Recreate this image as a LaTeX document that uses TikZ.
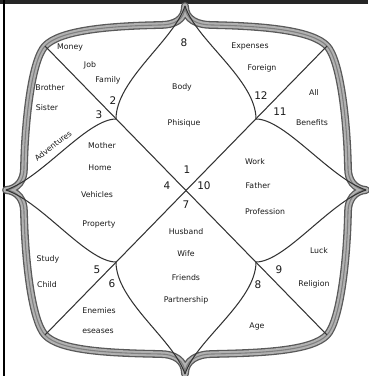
\documentclass[tikz,border=0pt]{standalone}
\usepackage{fontspec}
\setmainfont{DejaVu Sans}
\begin{document}
\begin{tikzpicture}[x=1pt,y=-1pt,
  lbl/.style={inner sep=0pt, text=black!90, font=\fontsize{7.8}{9}\selectfont},
  num/.style={inner sep=0pt, text=black!90, font=\fontsize{10.5}{12}\selectfont},
  inner/.style={draw=black!80, line width=1.05pt},
  band/.style={draw=black!65, line width=7.8pt, line join=round, line cap=round,
    postaction={draw=black!30, line width=5.2pt},
    postaction={draw=black!50, line width=1.1pt}}]
\useasboundingbox (0,0) rectangle (368,376);
% frame
\fill[black!85] (0,0) rectangle (368,3.5);
\draw[black, line width=1.1pt] (4,0) -- (4,376);
% key points
\coordinate (T) at (185,6);
\coordinate (B) at (185,374);
\coordinate (L) at (6,190);
\coordinate (R) at (366,190);
\coordinate (TL) at (45,46);
\coordinate (TR) at (327,46);
\coordinate (BL) at (45,335);
\coordinate (BR) at (327,335);
\coordinate (mTL) at (116,119);
\coordinate (mTR) at (256,119);
\coordinate (mBL) at (116,262);
\coordinate (mBR) at (256,262);
\coordinate (tl1) at (160,25);
\coordinate (tr1) at (212,25);
\coordinate (bl1) at (160,354);
\coordinate (br1) at (212,354);
\coordinate (lt1) at (24,168);
\coordinate (lb1) at (24,212);
\coordinate (rt1) at (348,168);
\coordinate (rb1) at (348,212);
% outer border
\path[band] (T) .. controls +(0,14) and +(14,0) .. (tl1)
  .. controls +(-50,1) and +(15,-16) .. (TL)
  .. controls +(-13,14) and +(1,-50) .. (lt1)
  .. controls +(0,12) and +(12,-1) .. (L)
  .. controls +(12,1) and +(0,-12) .. (lb1)
  .. controls +(1,50) and +(-13,-14) .. (BL)
  .. controls +(15,16) and +(-50,-1) .. (bl1)
  .. controls +(14,0) and +(0,-14) .. (B)
  .. controls +(0,-14) and +(-14,0) .. (br1)
  .. controls +(50,-1) and +(-15,16) .. (BR)
  .. controls +(13,-14) and +(-1,50) .. (rb1)
  .. controls +(0,-12) and +(-12,1) .. (R)
  .. controls +(-12,-1) and +(0,12) .. (rt1)
  .. controls +(-1,-50) and +(13,14) .. (TR)
  .. controls +(-15,-16) and +(50,1) .. (tr1)
  .. controls +(-14,0) and +(0,14) .. (T);
% diagonals
\draw[inner] (TL) -- (BR);
\draw[inner] (TR) -- (BL);
% inner curved diamond
\draw[inner] (T) .. controls +(-11,34) and +(0,-39) .. (mTL);
\draw[inner] (T) .. controls +(11,34) and +(0,-39) .. (mTR);
\draw[inner] (mTL) .. controls +(-29,0) and +(36,-12) .. (L);
\draw[inner] (mTR) .. controls +(29,0) and +(-36,-12) .. (R);
\draw[inner] (mBL) .. controls +(-29,0) and +(36,12) .. (L);
\draw[inner] (mBR) .. controls +(29,0) and +(-36,12) .. (R);
\draw[inner] (mBL) .. controls +(0,39) and +(-11,-34) .. (B);
\draw[inner] (mBR) .. controls +(0,39) and +(11,-34) .. (B);
% labels
\node[lbl] (money) at (70,47) {Money};
\node[lbl] (job) at (90,65) {Job};
\node[lbl] (family) at (108,80) {Family};
\node[num] (n2) at (113,101) {2};
\node[num] (n3) at (99,115) {3};
\node[lbl] (brother) at (50,88) {Brother};
\node[lbl] (sister) at (47,108) {Sister};
\node[lbl, rotate=38] (adv) at (53,146) {Adventures};
\node[lbl] (mother) at (102,146) {Mother};
\node[lbl] (home) at (100,168) {Home};
\node[lbl] (vehicles) at (97,195) {Vehicles};
\node[lbl] (property) at (99,224) {Property};
\node[num] (n4) at (167,186) {4};
\node[lbl] (body) at (182,87) {Body};
\node[lbl] (phisique) at (184,123) {Phisique};
\node[num] (n8top) at (184,43) {8};
\node[num] (n1) at (187,170) {1};
\node[num] (n10) at (204,186) {10};
\node[num] (n7) at (186,205) {7};
\node[lbl] (expenses) at (250,46) {Expenses};
\node[lbl] (foreign) at (262,68) {Foreign};
\node[num] (n12) at (261,96) {12};
\node[num] (n11) at (280,112) {11};
\node[lbl] (all) at (314,93) {All};
\node[lbl] (benefits) at (312,123) {Benefits};
\node[lbl] (work) at (255,162) {Work};
\node[lbl] (father) at (258,186) {Father};
\node[lbl] (profession) at (265,212) {Profession};
\node[lbl] (husband) at (186,232) {Husband};
\node[lbl] (wife) at (186,254) {Wife};
\node[lbl] (friends) at (186,278) {Friends};
\node[lbl] (partnership) at (186,300) {Partnership};
\node[lbl] (study) at (48,259) {Study};
\node[lbl] (child) at (47,285) {Child};
\node[num] (n5) at (97,270) {5};
\node[num] (n6) at (112,284) {6};
\node[lbl] (enemies) at (99,311) {Enemies};
\node[lbl] (eseases) at (98,331) {eseases};
\node[lbl] (luck) at (319,251) {Luck};
\node[num] (n9) at (279,270) {9};
\node[num] (n8) at (258,285) {8};
\node[lbl] (religion) at (314,284) {Religion};
\node[lbl] (age) at (257,326) {Age};
\end{tikzpicture}
\end{document}
